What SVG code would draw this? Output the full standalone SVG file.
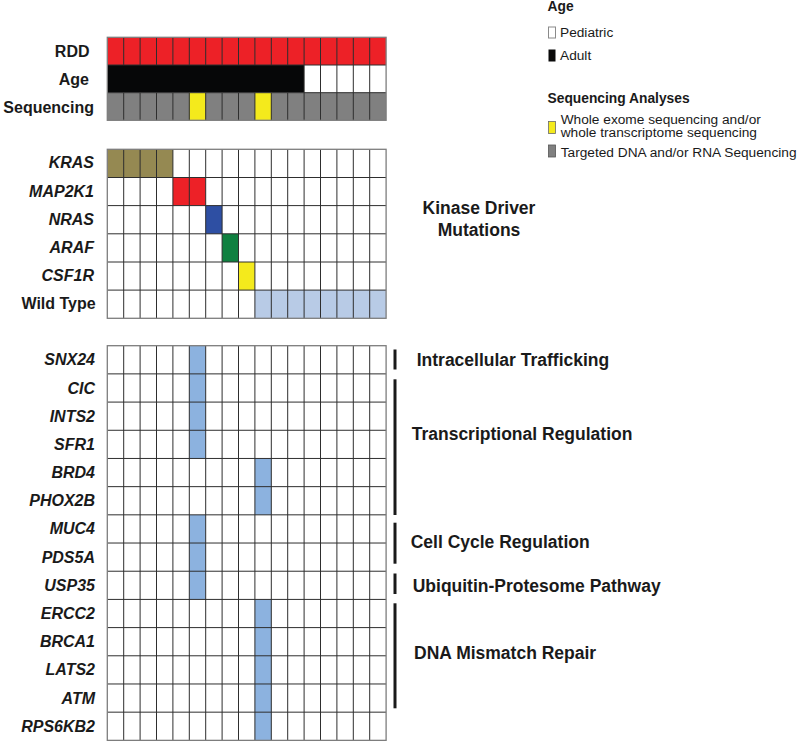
<svg xmlns="http://www.w3.org/2000/svg" width="800" height="745" viewBox="0 0 800 745">
<style>
text{font-family:"Liberation Sans",Arial,Helvetica,sans-serif;fill:#1a1a1a}
.lbl{font-size:16px;font-weight:bold;text-anchor:end}
.gene{font-size:16px;font-weight:bold;font-style:italic;text-anchor:end}
.cat{font-size:17.5px;font-weight:bold}
.lh{font-size:13.8px;font-weight:bold}
.lt{font-size:13.7px}
.grid{fill:none;stroke:#2e2e2e;stroke-width:1}
.frame{fill:none;stroke:#7d7d7d;stroke-width:1.3}
.bar{fill:#1a1a1a}
</style>
<rect width="800" height="745" fill="#ffffff"/>

<g id="legend">
  <text class="lh" x="547.5" y="11">Age</text>
  <rect x="548.5" y="27" width="7" height="11" fill="#ffffff" stroke="#8a8a8a" stroke-width="1"/>
  <text class="lt" x="560" y="37">Pediatric</text>
  <rect x="548.5" y="49.5" width="7" height="12" fill="#0a0a0a"/>
  <text class="lt" x="560" y="60">Adult</text>
  <text class="lh" x="547.5" y="102.7">Sequencing Analyses</text>
  <rect x="548.5" y="121.5" width="7" height="12" fill="#f4ea1c" stroke="#6a6a6a" stroke-width="0.8"/>
  <text class="lt" x="560.7" y="123.6">Whole exome sequencing and/or</text>
  <text class="lt" x="560.7" y="136.9">whole transcriptome sequencing</text>
  <rect x="548.5" y="145" width="7" height="12" fill="#808080" stroke="#555" stroke-width="0.8"/>
  <text class="lt" x="560.7" y="156.7">Targeted DNA and/or RNA Sequencing</text>
</g>

<g id="clinical">
  <g id="row-rdd">
    <text class="lbl" x="89.5" y="56.5">RDD</text>
    <rect x="107.3" y="37.3" width="278.8" height="27.7" fill="#ed2127"/>
  </g>
  <g id="row-age">
    <text class="lbl" x="89" y="85">Age</text>
    <rect x="107.3" y="65" width="196.8" height="27.7" fill="#060708"/>
  </g>
  <g id="row-sequencing">
    <text class="lbl" x="94" y="112.5">Sequencing</text>
    <rect x="107.3" y="92.7" width="278.8" height="27.6" fill="#808080"/>
    <rect x="189.3" y="92.7" width="16.4" height="27.6" fill="#f4ea1c"/>
    <rect x="254.9" y="92.7" width="16.4" height="27.6" fill="#f4ea1c"/>
  </g>
  <path class="grid" d="M123.7 37.3V65M140.1 37.3V65M156.5 37.3V65M172.9 37.3V65M189.3 37.3V65M205.7 37.3V65M222.1 37.3V65M238.5 37.3V65M254.9 37.3V65M271.3 37.3V65M287.7 37.3V65M304.1 37.3V120.3M320.5 37.3V120.3M336.9 37.3V120.3M353.3 37.3V120.3M369.7 37.3V120.3M123.7 92.7V120.3M140.1 92.7V120.3M156.5 92.7V120.3M172.9 92.7V120.3M189.3 92.7V120.3M205.7 92.7V120.3M222.1 92.7V120.3M238.5 92.7V120.3M254.9 92.7V120.3M271.3 92.7V120.3M287.7 92.7V120.3M107.3 65H386.1M107.3 92.7H386.1"/>
  <rect class="frame" x="107.3" y="37.3" width="278.8" height="83"/>
</g>

<g id="kinase">
  <g id="row-kras">
    <text class="gene" x="94" y="168.4">KRAS</text>
    <rect x="107.3" y="149.3" width="65.6" height="28.2" fill="#958952"/>
  </g>
  <g id="row-map2k1">
    <text class="gene" x="94" y="196.5">MAP2K1</text>
    <rect x="172.9" y="177.5" width="32.8" height="28.1" fill="#ed2127"/>
  </g>
  <g id="row-nras">
    <text class="gene" x="94" y="224.7">NRAS</text>
    <rect x="205.7" y="205.6" width="16.4" height="28.2" fill="#2e4fa3"/>
  </g>
  <g id="row-araf">
    <text class="gene" x="94" y="252.9">ARAF</text>
    <rect x="222.1" y="233.8" width="16.4" height="28.2" fill="#0f8040"/>
  </g>
  <g id="row-csf1r">
    <text class="gene" x="94" y="281">CSF1R</text>
    <rect x="238.5" y="262" width="16.4" height="28.1" fill="#f4ea1c"/>
  </g>
  <g id="row-wildtype">
    <text class="lbl" x="95.7" y="309.2">Wild Type</text>
    <rect x="254.9" y="290.1" width="131.2" height="28.2" fill="#b8cbe6"/>
  </g>
  <path class="grid" d="M123.7 149.3V318.3M140.1 149.3V318.3M156.5 149.3V318.3M172.9 149.3V318.3M189.3 149.3V318.3M205.7 149.3V318.3M222.1 149.3V318.3M238.5 149.3V318.3M254.9 149.3V318.3M271.3 149.3V318.3M287.7 149.3V318.3M304.1 149.3V318.3M320.5 149.3V318.3M336.9 149.3V318.3M353.3 149.3V318.3M369.7 149.3V318.3M107.3 177.5H386.1M107.3 205.6H386.1M107.3 233.8H386.1M107.3 262H386.1M107.3 290.1H386.1"/>
  <rect class="frame" x="107.3" y="149.3" width="278.8" height="169"/>
  <g id="label-kinase">
    <text class="cat" x="479" y="214" text-anchor="middle">Kinase Driver</text>
    <text class="cat" x="479" y="235.7" text-anchor="middle">Mutations</text>
  </g>
</g>

<g id="other">
  <g id="fills" fill="#8cb2df">
    <rect x="189.3" y="345.7" width="16.4" height="112.76"/>
    <rect x="254.9" y="458.46" width="16.4" height="56.38"/>
    <rect x="189.3" y="514.84" width="16.4" height="84.57"/>
    <rect x="254.9" y="599.41" width="16.4" height="140.95"/>
  </g>
  <g id="gene-labels">
    <text class="gene" x="95" y="365.3">SNX24</text>
    <text class="gene" x="95" y="393.5">CIC</text>
    <text class="gene" x="95" y="421.7">INTS2</text>
    <text class="gene" x="95" y="449.9">SFR1</text>
    <text class="gene" x="95" y="478.1">BRD4</text>
    <text class="gene" x="95" y="506.2">PHOX2B</text>
    <text class="gene" x="95" y="534.4">MUC4</text>
    <text class="gene" x="95" y="562.6">PDS5A</text>
    <text class="gene" x="95" y="590.8">USP35</text>
    <text class="gene" x="95" y="619">ERCC2</text>
    <text class="gene" x="95" y="647.2">BRCA1</text>
    <text class="gene" x="95" y="675.4">LATS2</text>
    <text class="gene" x="95" y="703.6">ATM</text>
    <text class="gene" x="95" y="731.8">RPS6KB2</text>
  </g>
  <path class="grid" d="M123.7 345.7V740.4M140.1 345.7V740.4M156.5 345.7V740.4M172.9 345.7V740.4M189.3 345.7V740.4M205.7 345.7V740.4M222.1 345.7V740.4M238.5 345.7V740.4M254.9 345.7V740.4M271.3 345.7V740.4M287.7 345.7V740.4M304.1 345.7V740.4M320.5 345.7V740.4M336.9 345.7V740.4M353.3 345.7V740.4M369.7 345.7V740.4M107.3 373.89H386.1M107.3 402.08H386.1M107.3 430.27H386.1M107.3 458.46H386.1M107.3 486.65H386.1M107.3 514.84H386.1M107.3 543.03H386.1M107.3 571.22H386.1M107.3 599.41H386.1M107.3 627.6H386.1M107.3 655.79H386.1M107.3 683.98H386.1M107.3 712.17H386.1"/>
  <rect class="frame" x="107.3" y="345.7" width="278.8" height="394.66"/>
</g>

<g id="categories">
  <g id="cat-intracellular">
    <rect class="bar" x="393.5" y="349.5" width="3" height="20"/>
    <text class="cat" x="416.7" y="366">Intracellular Trafficking</text>
  </g>
  <g id="cat-transcriptional">
    <rect class="bar" x="393.5" y="379.3" width="3" height="135.7"/>
    <text class="cat" x="411.7" y="440">Transcriptional Regulation</text>
  </g>
  <g id="cat-cellcycle">
    <rect class="bar" x="393.5" y="522.7" width="3" height="41"/>
    <text class="cat" x="410.7" y="548.3">Cell Cycle Regulation</text>
  </g>
  <g id="cat-ubiquitin">
    <rect class="bar" x="393.5" y="573.5" width="3" height="20.5"/>
    <text class="cat" x="412.7" y="591.5">Ubiquitin-Protesome Pathway</text>
  </g>
  <g id="cat-dna">
    <rect class="bar" x="393.5" y="603.3" width="3" height="105"/>
    <text class="cat" x="414" y="659.3">DNA Mismatch Repair</text>
  </g>
</g>
</svg>
